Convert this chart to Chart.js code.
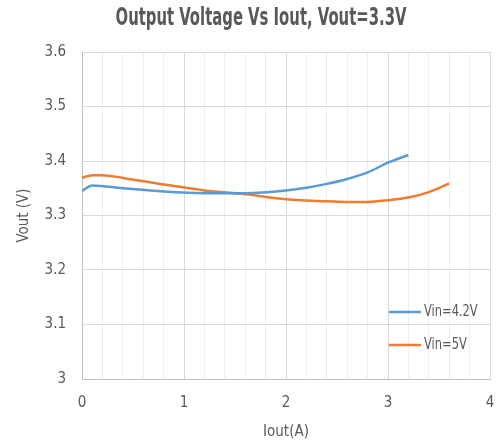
<!DOCTYPE html>
<html>
<head>
<meta charset="utf-8">
<script src="https://cdn.jsdelivr.net/npm/chart.js@4/dist/chart.umd.min.js"></script>
<style>
  html, body { margin: 0; padding: 0; background: #fff; }
  #wrap { width: 499px; height: 443px; }
</style>
</head>
<body>
<div id="wrap"><canvas id="voutChart"></canvas></div>
<script>
// values
const iout42 = [0, 0.1, 0.4, 0.8, 1.2, 1.6, 2.0, 2.2, 2.4, 2.6, 2.8, 3.0, 3.2];
const vout42 = [3.345, 3.355, 3.350, 3.344, 3.341, 3.341, 3.346, 3.351, 3.358, 3.367, 3.379, 3.397, 3.411];
const iout5 = [0, 0.1, 0.2, 0.4, 0.8, 1.2, 1.6, 2.0, 2.4, 2.6, 2.8, 3.0, 3.2, 3.4, 3.6];
const vout5 = [3.369, 3.374, 3.374, 3.369, 3.357, 3.346, 3.339, 3.330, 3.326, 3.325, 3.325, 3.328, 3.333, 3.343, 3.359];
const seriesNames = ['Vin=4.2V', 'Vin=5V'];
const chartTitle = 'Output Voltage Vs Iout, Vout=3.3V';

const FONT = '"DejaVu Sans Condensed", "Liberation Sans", sans-serif';
const GREY = '#595959';

const toPoints = (xs, ys) => xs.map((x, i) => ({ x: x, y: ys[i] }));

// narrow title (the original uses a tall condensed face)
const narrowTitle = {
    id: 'narrowTitle',
    afterDraw(chart) {
        const ctx = chart.ctx;
        ctx.save();
        ctx.translate(261, 18);
        ctx.scale(0.66, 1);
        ctx.fillStyle = GREY;
        ctx.font = 'bold 25px ' + FONT;
        ctx.textAlign = 'center';
        ctx.textBaseline = 'middle';
        ctx.fillText(chartTitle, 0, 0);
        ctx.restore();
    }
};

// legend drawn inside the plot, like the original
const insideLegend = {
    id: 'insideLegend',
    afterDatasetsDraw(chart) {
        const ctx = chart.ctx;
        const area = chart.chartArea;
        const x0 = area.right - 101;
        chart.data.datasets.forEach((ds, i) => {
            const y = area.bottom - 67 + i * 33;
            ctx.save();
            ctx.strokeStyle = ds.borderColor;
            ctx.lineWidth = 2.5;
            ctx.beginPath();
            ctx.moveTo(x0, y);
            ctx.lineTo(x0 + 32, y);
            ctx.stroke();
            ctx.translate(x0 + 35, y);
            ctx.scale(0.85, 1);
            ctx.fillStyle = GREY;
            ctx.font = '15px ' + FONT;
            ctx.textBaseline = 'middle';
            ctx.fillText(ds.label, 0, 0);
            ctx.restore();
        });
    }
};

new Chart(document.getElementById('voutChart'), {
    type: 'line',
    data: {
        datasets: [{
            label: seriesNames[0],
            data: toPoints(iout42, vout42),
            borderColor: '#5b9bd5',
            backgroundColor: '#5b9bd5',
            borderWidth: 2.5,
            pointRadius: 0,
            tension: 0.4,
            cubicInterpolationMode: 'monotone'
        }, {
            label: seriesNames[1],
            data: toPoints(iout5, vout5),
            borderColor: '#ed7d31',
            backgroundColor: '#ed7d31',
            borderWidth: 2.5,
            pointRadius: 0,
            tension: 0.4,
            cubicInterpolationMode: 'monotone'
        }]
    },
    options: {
        responsive: true,
        maintainAspectRatio: false,
        animation: false,
        layout: { padding: { left: 0, right: 9, top: 52, bottom: 0 } },
        plugins: {
            legend: { display: false },
            tooltip: { enabled: false },
            title: { display: false }
        },
        scales: {
            x: {
                type: 'linear',
                min: 0,
                max: 4,
                afterFit: s => { s.height = 64; s.paddingLeft = 0; s.paddingRight = 0; },
                border: { color: '#bfbfbf' },
                grid: {
                    drawTicks: false,
                    color: c => Math.abs(c.tick.value - Math.round(c.tick.value)) < 1e-6 ? '#d9d9d9' : '#efefef'
                },
                ticks: {
                    stepSize: 0.2,
                    autoSkip: false,
                    maxRotation: 0,
                    padding: 15,
                    color: GREY,
                    font: { family: FONT, size: 15 },
                    callback: v => Math.abs(v - Math.round(v)) < 1e-6 ? Math.round(v) : ''
                },
                title: {
                    display: true,
                    text: 'Iout(A)',
                    color: GREY,
                    font: { family: FONT, size: 15 },
                    padding: { top: 2, bottom: 2 }
                }
            },
            y: {
                min: 3,
                max: 3.6,
                afterFit: s => { s.width = 82; },
                border: { color: '#bfbfbf' },
                grid: { drawTicks: false, color: '#d9d9d9' },
                ticks: {
                    stepSize: 0.1,
                    padding: 16,
                    color: GREY,
                    font: { family: FONT, size: 15 },
                    callback: v => Math.abs(v - 3) < 1e-6 ? '3' : v.toFixed(1)
                },
                title: {
                    display: true,
                    text: 'Vout (V)',
                    color: GREY,
                    font: { family: FONT, size: 15 },
                    padding: { top: 15, bottom: 0 }
                }
            }
        }
    },
    plugins: [insideLegend, narrowTitle]
});
</script>
</body>
</html>
